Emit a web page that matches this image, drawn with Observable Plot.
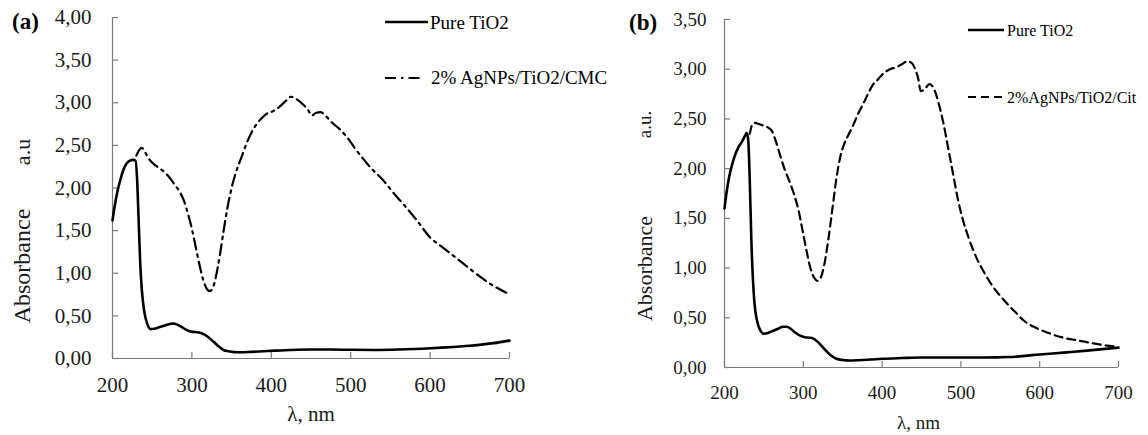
<!DOCTYPE html>
<html><head><meta charset="utf-8">
<script src="https://cdn.jsdelivr.net/npm/d3@7"></script>
<script src="https://cdn.jsdelivr.net/npm/@observablehq/plot@0.6"></script>
<style>
body{margin:0;background:#fff;}
#wrap{position:relative;width:1148px;height:435px;display:flex;overflow:hidden;}
#legend{position:absolute;left:0;top:0;}
</style></head><body><div id="wrap"></div>
<script>
// ---- data ----
const wavelengthTicks = [200, 300, 400, 500, 600, 700];
const absTicksA = [0, 0.5, 1, 1.5, 2, 2.5, 3, 3.5, 4];
const absTicksB = [0, 0.5, 1, 1.5, 2, 2.5, 3, 3.5];

const seriesNamesA = ["Pure TiO2", "2% AgNPs/TiO2/CMC"];
const seriesNamesB = ["Pure TiO2", "2%AgNPs/TiO2/Cit"];

const tio2WlA = [200,203,206,210,214,218,222,226,229,231,233,235,237,240,244,248,253,258,264,270,276,281,287,293,299,305,311,316,322,328,334,340,346,353,362,375,390,405,425,450,475,500,530,560,590,620,650,680,700];
const tio2AbsA = [1.62,1.80,1.95,2.10,2.22,2.29,2.32,2.33,2.32,2.10,1.60,1.10,0.80,0.55,0.40,0.345,0.35,0.365,0.38,0.40,0.41,0.40,0.37,0.335,0.315,0.31,0.30,0.28,0.24,0.19,0.14,0.10,0.085,0.075,0.073,0.078,0.085,0.092,0.10,0.105,0.105,0.102,0.10,0.105,0.115,0.13,0.15,0.18,0.21];

const cmcWl = [230,234,237,241,246,252,258,265,272,279,285,290,295,300,305,310,314,318,322,326,330,335,340,345,350,356,362,370,378,386,394,402,410,418,425,432,440,446,451,456,462,468,475,485,495,505,515,525,540,555,570,585,600,615,630,645,660,675,690,700];
const cmcAbs = [2.38,2.45,2.47,2.42,2.34,2.28,2.24,2.19,2.12,2.03,1.95,1.85,1.70,1.52,1.30,1.08,0.93,0.83,0.79,0.82,0.95,1.20,1.50,1.78,2.00,2.20,2.35,2.55,2.70,2.80,2.87,2.90,2.95,3.02,3.07,3.04,2.98,2.92,2.85,2.88,2.89,2.85,2.78,2.70,2.60,2.47,2.35,2.24,2.10,1.93,1.77,1.60,1.42,1.31,1.20,1.09,0.98,0.88,0.80,0.75];

const tio2WlB = [200,203,206,210,214,218,222,226,228,230,232,234,236,238,241,245,250,256,262,268,274,279,284,290,296,302,308,313,318,324,330,336,342,350,358,370,385,400,425,450,475,500,530,560,600,630,660,700];
const tio2AbsB = [1.60,1.78,1.92,2.05,2.15,2.22,2.27,2.33,2.36,2.30,1.90,1.30,0.90,0.65,0.48,0.38,0.34,0.35,0.37,0.39,0.41,0.41,0.39,0.35,0.32,0.305,0.30,0.29,0.26,0.21,0.16,0.115,0.088,0.075,0.07,0.073,0.08,0.088,0.095,0.10,0.10,0.10,0.10,0.105,0.13,0.15,0.17,0.20];

const citWl = [232,235,238,243,250,256,260,265,270,276,282,288,294,299,304,309,314,318,322,327,332,337,342,347,352,358,364,370,376,382,388,395,402,410,418,425,432,438,442,446,449,454,460,466,472,478,484,490,496,502,510,520,530,540,550,560,570,580,595,610,630,650,670,685,700];
const citAbs = [2.35,2.44,2.46,2.45,2.43,2.41,2.38,2.28,2.15,2.00,1.88,1.75,1.58,1.38,1.18,1.00,0.90,0.87,0.90,1.05,1.30,1.60,1.90,2.12,2.25,2.35,2.45,2.56,2.65,2.75,2.84,2.90,2.96,3.00,3.02,3.05,3.08,3.06,3.00,2.90,2.78,2.80,2.85,2.80,2.65,2.45,2.20,1.95,1.70,1.50,1.30,1.10,0.95,0.82,0.72,0.63,0.55,0.47,0.40,0.35,0.30,0.27,0.24,0.22,0.21];

// ---- helpers ----
const toRows = (xs, ys) => xs.map((x, i) => ({x, y: ys[i]}));
const fmtComma = d => d.toFixed(2).replace(".", ",");
const serif = "Liberation Serif";
const axisGray = "#7a7a7a";
const ink = "#1a1a1a";

function panel(o) {
  const tickLen = 6;
  const txt = {fontFamily: serif, fill: ink};
  return Plot.plot({
    width: o.width, height: 435,
    marginLeft: o.ml, marginRight: o.mr, marginTop: o.mt, marginBottom: o.mb,
    style: {fontFamily: serif, fontSize: o.fontSize + "px", color: ink, background: "white", overflow: "visible"},
    x: {domain: [200, 700]},
    y: {domain: [0, o.yMax]},
    marks: [
      Plot.ruleY([0], {x1: 200, x2: 700, stroke: axisGray, strokeWidth: 1.2}),
      Plot.ruleX([200], {y1: 0, y2: o.yMax, stroke: axisGray, strokeWidth: 1.2}),
      Plot.ruleX(wavelengthTicks, {x: d => d, y1: 0, y2: tickLen / o.pxPerUnit, stroke: axisGray, strokeWidth: 1.2}),
      Plot.ruleY(o.yTicks, {y: d => d, x1: 200, x2: 200 + tickLen / o.pxPerNm, stroke: axisGray, strokeWidth: 1.2}),
      Plot.axisX({ticks: wavelengthTicks, tickSize: 0, tickPadding: o.tickPadX, tickFormat: d => String(d), label: null, fontSize: o.fontSize, ...txt}),
      Plot.axisY({ticks: o.yTicks, tickSize: 0, tickPadding: o.tickPadY, tickFormat: fmtComma, label: null, fontSize: o.fontSize, ...txt}),
      ...o.series.map(s => Plot.line(s.rows, {x: "x", y: "y", stroke: "black", strokeWidth: s.width, strokeDasharray: s.dash, curve: "monotone-x"})),
      // y axis title: two words, rotated
      Plot.text([o.yWord], {frameAnchor: "left", rotate: -90, textAnchor: "middle", dx: o.titleDx, dy: o.wordDy, fontSize: o.wordSize, letterSpacing: o.wordSpacing, ...txt}),
      Plot.text([o.yUnit], {frameAnchor: "left", rotate: -90, textAnchor: "middle", dx: o.titleDx, dy: o.unitDy, fontSize: o.unitSize, ...txt}),
      Plot.text(["λ, nm"], {frameAnchor: "bottom", dy: o.xTitleDy, dx: o.xTitleDx, fontSize: o.fontSize, ...txt})
    ]
  });
}

const wrap = document.getElementById("wrap");

const left = panel({
  width: 574, ml: 112, mr: 65, mt: 17, mb: 77, yMax: 4, yTicks: absTicksA,
  fontSize: 21, tickPadY: 21, tickPadX: 19,
  series: [
    {rows: toRows(tio2WlA, tio2AbsA), width: 2.6, dash: null},
    {rows: toRows(cmcWl, cmcAbs), width: 2.2, dash: "11,5,2.5,5"}
  ],
  yWord: "Absorbance", yUnit: "a.u", wordSize: 24, wordSpacing: "2px", unitSize: 22,
  titleDx: -90, wordDy: 78, unitDy: -36, xTitleDy: 62, xTitleDx: 0,
  pxPerNm: 397 / 500, pxPerUnit: 341 / 4
});
const right = panel({
  width: 574, ml: 150, mr: 30, mt: 19, mb: 68, yMax: 3.5, yTicks: absTicksB,
  fontSize: 19, tickPadY: 18, tickPadX: 18,
  series: [
    {rows: toRows(tio2WlB, tio2AbsB), width: 2.6, dash: null},
    {rows: toRows(citWl, citAbs), width: 2.2, dash: "8,5"}
  ],
  yWord: "Absorbance", yUnit: "a.u.", wordSize: 22, wordSpacing: "2px", unitSize: 19,
  titleDx: -80, wordDy: 75, unitDy: -69, xTitleDy: 61, xTitleDx: -3,
  pxPerNm: 394 / 500, pxPerUnit: 348 / 3.5
});
wrap.appendChild(left);
wrap.appendChild(right);

// ---- panel letters and legends (overlay) ----
const ns = "http://www.w3.org/2000/svg";
const ov = document.createElementNS(ns, "svg");
ov.setAttribute("id", "legend");
ov.setAttribute("width", 1148);
ov.setAttribute("height", 435);
ov.setAttribute("font-family", serif);
wrap.appendChild(ov);
function addText(str, x, y, size, weight) {
  const t = document.createElementNS(ns, "text");
  t.setAttribute("x", x); t.setAttribute("y", y);
  t.setAttribute("font-size", size);
  t.setAttribute("font-family", serif);
  t.setAttribute("font-weight", weight || "normal");
  t.setAttribute("dominant-baseline", "central");
  t.setAttribute("fill", "#000");
  t.textContent = str;
  ov.appendChild(t);
}
function addLine(x1, x2, y, width, dash) {
  const l = document.createElementNS(ns, "line");
  l.setAttribute("x1", x1); l.setAttribute("x2", x2);
  l.setAttribute("y1", y); l.setAttribute("y2", y);
  l.setAttribute("stroke", "#000");
  l.setAttribute("stroke-width", width);
  if (dash) l.setAttribute("stroke-dasharray", dash);
  ov.appendChild(l);
}
addText("(a)", 12, 21, 23, "bold");
addText("(b)", 629, 22, 23, "bold");
addLine(385, 428, 22, 2.6, null);
addText(seriesNamesA[0], 430, 22, 19);
addLine(385, 424, 78, 2.2, "11,5,2.5,5");
addText(seriesNamesA[1], 431, 77, 19);
addLine(968, 1004, 30, 2.6, null);
addText(seriesNamesB[0], 1007, 30, 16);
addLine(968, 1004, 97, 2.2, "8,5");
addText(seriesNamesB[1], 1007, 97, 16);
</script>
</body></html>
